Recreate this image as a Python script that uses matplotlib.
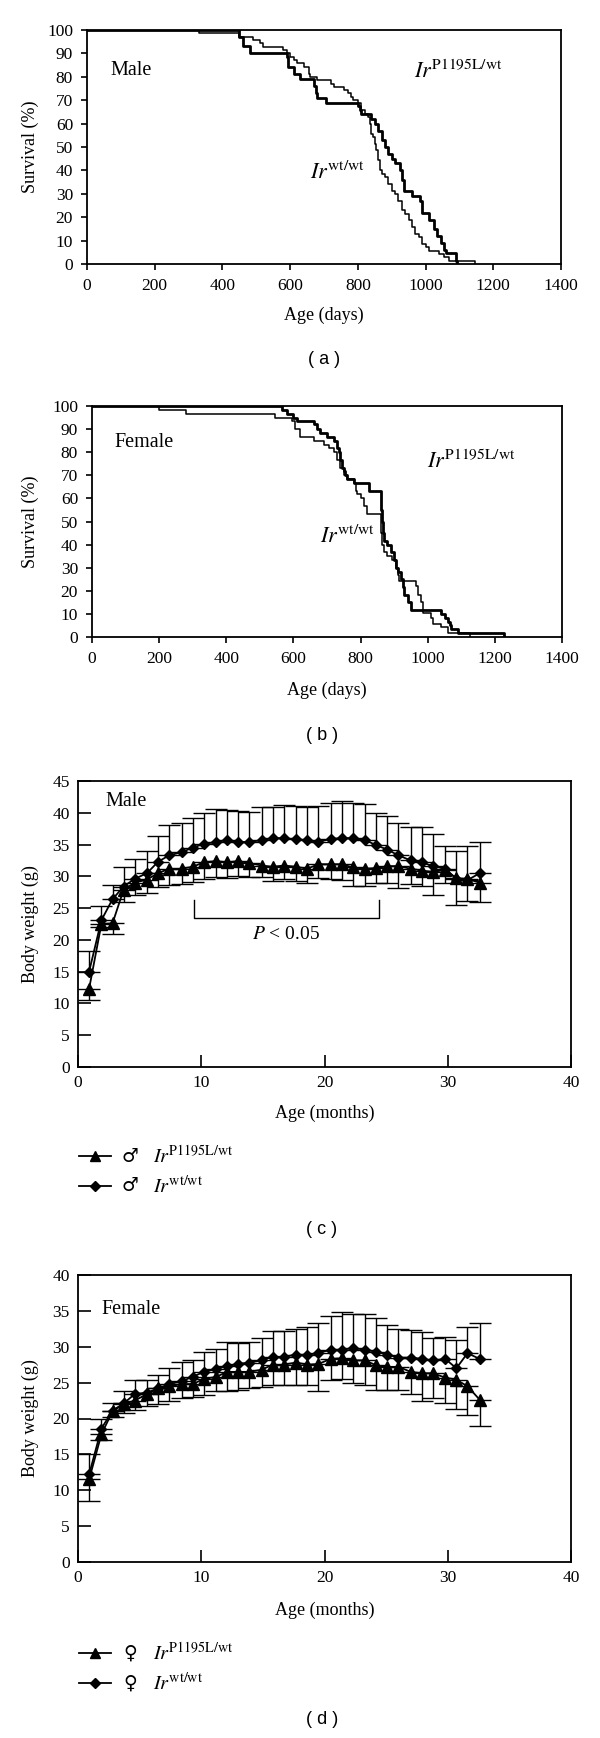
import numpy as np
import matplotlib
matplotlib.use("Agg")
import matplotlib.pyplot as plt
from matplotlib.lines import Line2D

plt.rcParams['font.family'] = ['Liberation Serif', 'DejaVu Sans']
plt.rcParams['mathtext.fontset'] = 'stix'

# ---------------- survival data (days, survival % after each step) -------------
male_ko_days = [450, 460, 480, 590, 595, 610, 630, 670, 675, 680, 705, 800, 805, 810, 840, 850, 860,
                870, 880, 890, 900, 910, 925, 930, 935, 960, 985, 990, 1010, 1025, 1035, 1045, 1055,
                1060, 1090, 1093]
male_ko_surv = [97, 93, 90, 88.5, 84, 81, 79, 76, 73, 71, 69, 67.5, 66, 64, 62, 60, 57, 53, 50, 47, 45,
                43, 40, 36, 31, 29, 27, 22, 19, 15, 12, 9, 6, 4.5, 1.4, 0]
male_wt_days = [330, 450, 490, 510, 520, 580, 590, 600, 610, 620, 640, 655, 660, 680, 720, 730, 760,
                770, 780, 785, 800, 810, 820, 830, 835, 840, 845, 850, 855, 860, 865, 870, 880, 890,
                900, 910, 920, 930, 940, 950, 960, 970, 980, 990, 1000, 1010, 1040, 1055, 1070, 1145]
male_wt_surv = [98.6, 97.1, 95.7, 94.3, 92.9, 91.4, 90.0, 88.6, 87.1, 85.7, 84.3, 81.4, 80.0, 78.6,
                77.1, 75.7, 74.3, 72.9, 71.4, 70.0, 68.6, 65.7, 64.3, 62.9, 60.0, 55.7, 54.3, 51.4,
                48.6, 44.3, 40.0, 38.6, 37.1, 34.3, 31.4, 30.0, 27.1, 22.9, 21.4, 18.6, 15.7, 12.9,
                11.4, 8.6, 7.1, 5.7, 4.3, 2.9, 1.4, 0]

fem_ko_days = [565, 580, 600, 610, 660, 670, 680, 700, 720, 730, 735, 740, 745, 750, 755, 760, 780,
               825, 860, 862, 865, 868, 870, 880, 890, 900, 905, 910, 920, 925, 930, 940, 950, 1040,
               1050, 1060, 1065, 1070, 1090, 1228]
fem_ko_surv = [98.3, 96.7, 95.0, 93.5, 92.0, 90.0, 88.3, 86.7, 85.0, 81.7, 80.0, 76.7, 73.3, 71.7,
               70.0, 68.3, 66.7, 63.3, 60.0, 55.0, 50.0, 45.0, 41.7, 40.0, 36.7, 33.3, 30.0, 28.3,
               25.0, 21.7, 18.3, 15.0, 11.7, 10.0, 8.3, 6.7, 5.0, 3.3, 1.7, 0]
fem_wt_days = [200, 280, 545, 595, 605, 620, 660, 690, 705, 720, 730, 740, 750, 760, 780, 785, 790,
               800, 810, 820, 860, 862, 865, 870, 880, 895, 905, 910, 915, 965, 970, 980, 985, 1010,
               1015, 1040, 1060, 1125]
fem_wt_surv = [98.3, 96.7, 95.0, 93.3, 90.0, 86.7, 85.0, 83.3, 81.7, 80.0, 76.7, 73.3, 70.0, 68.3,
               66.7, 63.3, 61.7, 60.0, 56.7, 53.3, 50.0, 45.0, 40.0, 36.7, 35.0, 33.3, 30.0, 26.7,
               24.2, 22.0, 18.3, 15.0, 10.4, 8.3, 5.8, 4.2, 1.7, 0]

# ---------------- body weight data ----------------
months = [0.9, 1.9, 2.8, 3.7, 4.6, 5.6, 6.5, 7.4, 8.4, 9.3, 10.2, 11.2, 12.1, 13.0, 13.9, 14.9,
          15.8, 16.7, 17.7, 18.6, 19.5, 20.5, 21.4, 22.3, 23.3, 24.2, 25.1, 26.0, 27.0, 27.9,
          28.8, 29.8, 30.7, 31.6, 32.6]

male_ko_mean = [12.3, 22.5, 22.6, 27.9, 29.0, 29.5, 30.5, 31.2, 31.2, 31.5, 32.2, 32.4, 32.2, 32.4,
                32.1, 31.7, 31.5, 31.7, 31.5, 31.2, 31.9, 31.9, 31.9, 31.4, 31.2, 31.3, 31.6, 31.6,
                31.2, 30.9, 30.7, 31.0, 29.7, 29.6, 29.0]
male_ko_low = [10.5, 22.0, 21.0, 25.9, 27.0, 27.4, 28.4, 28.7, 28.8, 29.1, 29.6, 29.9, 29.8, 30.0,
               29.9, 29.9, 29.2, 29.6, 29.3, 29.0, 29.7, 29.6, 29.4, 28.5, 28.5, 28.9, 28.9, 28.2,
               28.8, 28.5, 27.0, 28.9, 25.5, 26.1, 25.9]
male_wt_mean = [15.0, 23.1, 26.4, 28.4, 29.6, 30.5, 32.3, 33.3, 33.8, 34.5, 35.1, 35.4, 35.7, 35.4,
                35.4, 35.7, 36.0, 36.0, 35.8, 35.7, 35.4, 35.9, 36.0, 36.0, 35.7, 34.9, 34.2, 33.3,
                32.5, 32.2, 31.6, 31.2, 29.6, 29.4, 30.5]
male_wt_up = [18.2, 25.3, 28.7, 31.4, 32.8, 34.0, 36.3, 38.0, 38.4, 39.2, 40.0, 40.6, 40.5, 40.3,
              40.1, 40.9, 40.9, 41.2, 41.1, 40.9, 41.0, 41.5, 41.8, 41.5, 41.4, 40.0, 39.5, 38.4,
              37.8, 37.7, 36.6, 34.8, 34.0, 34.8, 35.4]

fem_ko_mean = [11.5, 17.8, 21.0, 22.0, 22.5, 23.4, 24.2, 24.5, 24.8, 24.8, 25.5, 25.8, 26.5, 26.5,
               26.5, 26.8, 27.5, 27.5, 27.8, 27.5, 27.6, 28.3, 28.4, 28.1, 28.1, 27.4, 27.2, 27.2,
               26.5, 26.3, 26.3, 25.7, 25.4, 24.5, 22.6]
fem_ko_low = [8.5, 17.0, 20.2, 20.8, 21.2, 21.8, 22.0, 22.5, 22.8, 23.0, 23.3, 23.8, 23.8, 24.0,
              24.3, 24.4, 24.7, 24.6, 24.6, 24.6, 23.8, 25.3, 25.5, 24.9, 24.7, 24.0, 24.0, 24.0,
              23.4, 22.4, 22.9, 22.1, 21.3, 20.5, 19.0]
fem_wt_mean = [12.2, 18.6, 21.1, 22.1, 23.4, 23.6, 24.2, 24.8, 25.2, 25.8, 26.5, 26.9, 27.3, 27.6,
               27.8, 28.1, 28.6, 28.6, 28.9, 28.9, 29.1, 29.6, 29.6, 29.8, 29.6, 29.3, 28.9, 28.5,
               28.5, 28.3, 28.1, 28.3, 27.0, 29.1, 28.3]
fem_wt_up = [15.0, 19.9, 22.2, 23.8, 25.3, 25.3, 26.1, 27.1, 27.9, 28.1, 29.2, 29.7, 30.7, 30.5,
             30.7, 31.2, 32.2, 32.2, 32.5, 32.8, 33.3, 34.3, 34.8, 34.6, 34.5, 34.0, 33.1, 32.5,
             32.3, 32.0, 31.2, 31.4, 31.0, 32.8, 33.3]

bracket_x = [9.4, 24.4]
bracket_y = [26.3, 23.4]

lab_ko = r'$\mathit{Ir}^{\mathrm{P1195L/wt}}$'
lab_wt = r'$\mathit{Ir}^{\mathrm{wt/wt}}$'

W, H = 600, 1738
fig = plt.figure(figsize=(W / 100, H / 100), dpi=100)


def rect(l, t, r, b):
    return [l / W, (H - b) / H, (r - l) / W, (b - t) / H]


TICK_FS = 12.5
LAB_FS = 13


def style_axes(ax, inward, ticklen):
    for s in ax.spines.values():
        s.set_linewidth(1.3)
    ax.tick_params(direction='in' if inward else 'out', length=ticklen, width=1.2,
                   labelsize=TICK_FS, top=False, right=False, pad=6)


# ---------- panel a ----------
ax = fig.add_axes(rect(87, 30, 561, 264))
ax.step(np.r_[0, male_wt_days], np.r_[100, male_wt_surv], where='post', color='black', lw=1.1)
ax.step(np.r_[0, male_ko_days], np.r_[100, male_ko_surv], where='post', color='black', lw=2.0)
ax.set_xlim(0, 1400)
ax.set_ylim(0, 100)
ax.set_xticks(range(0, 1401, 200))
ax.set_yticks(range(0, 101, 10))
style_axes(ax, False, 4)
ax.set_xlabel('Age (days)', fontsize=LAB_FS)
ax.set_ylabel('Survival (%)', fontsize=LAB_FS)
ax.xaxis.set_label_coords(0.5, -0.184)
ax.yaxis.set_label_coords(-0.101, 0.5)
ax.text(0.049, 0.825, 'Male', transform=ax.transAxes, fontsize=14.5, va='center')
ax.text(0.69, 0.82, lab_ko, transform=ax.transAxes, fontsize=16, va='center')
ax.text(0.47, 0.389, lab_wt, transform=ax.transAxes, fontsize=16, va='center')
fig.text(324 / W, 1 - 360 / H, '( a )', ha='center', va='center', fontsize=13,
         family='Liberation Sans')

# ---------- panel b ----------
ax = fig.add_axes(rect(92, 406, 562, 637))
ax.step(np.r_[0, fem_wt_days], np.r_[100, fem_wt_surv], where='post', color='black', lw=1.1)
ax.step(np.r_[0, fem_ko_days], np.r_[100, fem_ko_surv], where='post', color='black', lw=2.0)
ax.set_xlim(0, 1400)
ax.set_ylim(0, 100)
ax.set_xticks(range(0, 1401, 200))
ax.set_yticks(range(0, 101, 10))
style_axes(ax, False, 4)
ax.set_xlabel('Age (days)', fontsize=LAB_FS)
ax.set_ylabel('Survival (%)', fontsize=LAB_FS)
ax.xaxis.set_label_coords(0.5, -0.195)
ax.yaxis.set_label_coords(-0.113, 0.5)
ax.text(0.047, 0.844, 'Female', transform=ax.transAxes, fontsize=14.5, va='center')
ax.text(0.713, 0.758, lab_ko, transform=ax.transAxes, fontsize=16, va='center')
ax.text(0.485, 0.433, lab_wt, transform=ax.transAxes, fontsize=16, va='center')
fig.text(322 / W, 1 - 735 / H, '( b )', ha='center', va='center', fontsize=13,
         family='Liberation Sans')


def weight_panel(ax, ko_mean, ko_low, wt_mean, wt_up, ymax, sym, leg_y):
    km = np.array(ko_mean)
    wm = np.array(wt_mean)
    ax.errorbar(months, km, yerr=[km - np.array(ko_low), np.zeros_like(km)], color='black',
                lw=1.3, marker='^', ms=8, capsize=8, elinewidth=1.0, capthick=1.0)
    ax.errorbar(months, wm, yerr=[np.zeros_like(wm), np.array(wt_up) - wm], color='black',
                lw=1.3, marker='D', ms=5.5, capsize=8, elinewidth=1.0, capthick=1.0)
    ax.set_xlim(0, 40)
    ax.set_ylim(0, ymax)
    ax.set_xticks(range(0, 41, 10))
    ax.set_yticks(range(0, ymax + 1, 5))
    style_axes(ax, True, 9)
    ax.set_xlabel('Age (months)', fontsize=LAB_FS)
    ax.set_ylabel('Body weight (g)', fontsize=LAB_FS)
    handles = [Line2D([], [], color='black', lw=1.3, marker='^', ms=7),
               Line2D([], [], color='black', lw=1.3, marker='D', ms=5)]
    labels = [lab_ko, lab_wt]
    leg = fig.legend(handles, labels, loc='upper left', bbox_to_anchor=(79 / W, 1 - leg_y / H),
                     frameon=False, borderpad=0, borderaxespad=0, handlelength=1.6,
                     handletextpad=2.05, labelspacing=0.38,
                     prop={'family': ['Liberation Serif', 'DejaVu Sans'], 'size': 14.5})
    fig.canvas.draw()
    r = fig.canvas.get_renderer()
    for line in leg.get_lines():
        bb = line.get_window_extent(r)
        yc = (bb.y0 + bb.y1) / 2
        fig.text(130 / W, yc / H, sym, ha='center', va='center', fontsize=13.5,
                 family='DejaVu Sans')


# ---------- panel c ----------
ax = fig.add_axes(rect(78, 781, 571, 1067))
weight_panel(ax, male_ko_mean, male_ko_low, male_wt_mean, male_wt_up, 45, '\u2642', 1146)
ax.plot([bracket_x[0], bracket_x[0], bracket_x[1], bracket_x[1]],
        [bracket_y[0], bracket_y[1], bracket_y[1], bracket_y[0]], color='black', lw=1.0)
ax.text(np.mean(bracket_x), 20.9, r'$P$ < 0.05', ha='center', va='center', fontsize=14)
ax.xaxis.set_label_coords(0.5, -0.133)
ax.yaxis.set_label_coords(-0.079, 0.5)
ax.text(0.055, 0.93, 'Male', transform=ax.transAxes, fontsize=14.5, va='center')
fig.text(322 / W, 1 - 1230 / H, '( c )', ha='center', va='center', fontsize=13,
         family='Liberation Sans')

# ---------- panel d ----------
ax = fig.add_axes(rect(78, 1275, 571, 1562))
weight_panel(ax, fem_ko_mean, fem_ko_low, fem_wt_mean, fem_wt_up, 40, '\u2640', 1643)
ax.xaxis.set_label_coords(0.5, -0.139)
ax.yaxis.set_label_coords(-0.079, 0.5)
ax.text(0.047, 0.88, 'Female', transform=ax.transAxes, fontsize=14.5, va='center')
fig.text(322 / W, 1 - 1720 / H, '( d )', ha='center', va='center', fontsize=13,
         family='Liberation Sans')

fig.savefig('out.png', dpi=100)
